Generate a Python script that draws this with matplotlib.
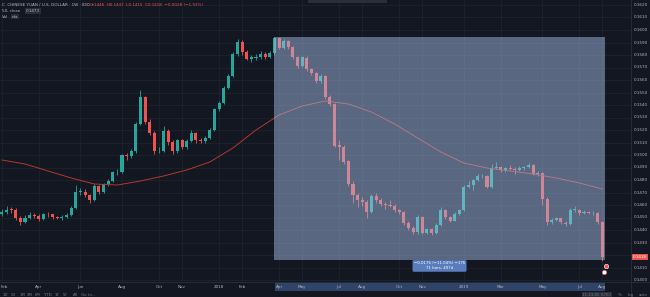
import matplotlib
matplotlib.use("Agg")
import matplotlib.pyplot as plt
from matplotlib.patches import Rectangle
import numpy as np
import pandas as pd

# ---------------- data (weekly CNY/USD) ----------------
start_date = "2017-02-06"
opens = [0.14530, 0.14541, 0.14564, 0.14560, 0.14493, 0.14468, 0.14499, 0.14522, 0.14514, 0.14489,
         0.14526, 0.14524, 0.14503, 0.14495, 0.14505, 0.14520, 0.14575, 0.14706, 0.14708, 0.14678,
         0.14639, 0.14751, 0.14706, 0.14769, 0.14793, 0.14861, 0.14863, 0.14997, 0.14990, 0.15031,
         0.15246, 0.15465, 0.15265, 0.15179, 0.15031, 0.15031, 0.15195, 0.15101, 0.15029, 0.15119,
         0.15060, 0.15113, 0.15177, 0.15117, 0.15111, 0.15135, 0.15202, 0.15368, 0.15413, 0.15538,
         0.15632, 0.15805, 0.15901, 0.15820, 0.15770, 0.15780, 0.15786, 0.15810, 0.15785, 0.15813,
         0.15936, 0.15860, 0.15911, 0.15865, 0.15785, 0.15716, 0.15780, 0.15689, 0.15654, 0.15591,
         0.15630, 0.15463, 0.15406, 0.15076, 0.15060, 0.14948, 0.14771, 0.14678, 0.14637, 0.14624,
         0.14545, 0.14673, 0.14641, 0.14605, 0.14601, 0.14594, 0.14560, 0.14541, 0.14455, 0.14420,
         0.14384, 0.14508, 0.14378, 0.14407, 0.14378, 0.14440, 0.14563, 0.14501, 0.14476, 0.14531,
         0.14558, 0.14747, 0.14760, 0.14799, 0.14830, 0.14835, 0.14747, 0.14899, 0.14906, 0.14877,
         0.14896, 0.14890, 0.14883, 0.14896, 0.14905, 0.14919, 0.14848, 0.14855, 0.14650, 0.14461,
         0.14482, 0.14493, 0.14460, 0.14447, 0.14560, 0.14564, 0.14533, 0.14541, 0.14535, 0.14537,
         0.14460]
highs = [0.14572, 0.14590, 0.14585, 0.14575, 0.14510, 0.14520, 0.14545, 0.14540, 0.14525, 0.14540,
         0.14545, 0.14530, 0.14515, 0.14520, 0.14535, 0.14590, 0.14760, 0.14740, 0.14725, 0.14690,
         0.14765, 0.14760, 0.14780, 0.14810, 0.14875, 0.14890, 0.15010, 0.15020, 0.15050, 0.15260,
         0.15520, 0.15470, 0.15290, 0.15190, 0.15060, 0.15230, 0.15210, 0.15120, 0.15130, 0.15125,
         0.15125, 0.15200, 0.15185, 0.15135, 0.15150, 0.15215, 0.15380, 0.15430, 0.15550, 0.15650,
         0.15820, 0.15930, 0.15920, 0.15840, 0.15800, 0.15810, 0.15830, 0.15825, 0.15830, 0.15944,
         0.15940, 0.15925, 0.15920, 0.15870, 0.15795, 0.15795, 0.15790, 0.15700, 0.15665, 0.15645,
         0.15640, 0.15480, 0.15415, 0.15120, 0.15080, 0.14960, 0.14790, 0.14700, 0.14660, 0.14640,
         0.14690, 0.14700, 0.14655, 0.14625, 0.14640, 0.14610, 0.14570, 0.14550, 0.14470, 0.14435,
         0.14520, 0.14515, 0.14420, 0.14420, 0.14455, 0.14580, 0.14570, 0.14510, 0.14545, 0.14570,
         0.14760, 0.14790, 0.14810, 0.14845, 0.14850, 0.14840, 0.14930, 0.14945, 0.14915, 0.14905,
         0.14920, 0.14905, 0.14910, 0.14915, 0.14935, 0.14925, 0.14870, 0.14865, 0.14660, 0.14500,
         0.14505, 0.14500, 0.14475, 0.14575, 0.14590, 0.14570, 0.14560, 0.14555, 0.14550, 0.14545,
         0.14470]
lows = [0.14515, 0.14530, 0.14540, 0.14480, 0.14440, 0.14455, 0.14490, 0.14500, 0.14475, 0.14480,
        0.14505, 0.14490, 0.14485, 0.14480, 0.14495, 0.14510, 0.14570, 0.14680, 0.14660, 0.14620,
        0.14630, 0.14690, 0.14700, 0.14755, 0.14785, 0.14840, 0.14855, 0.14960, 0.14980, 0.15020,
        0.15240, 0.15250, 0.15160, 0.15010, 0.15020, 0.15025, 0.15080, 0.15010, 0.15020, 0.15045,
        0.15050, 0.15105, 0.15100, 0.15095, 0.15100, 0.15125, 0.15195, 0.15355, 0.15405, 0.15525,
        0.15620, 0.15790, 0.15800, 0.15760, 0.15745, 0.15760, 0.15770, 0.15770, 0.15775, 0.15800,
        0.15845, 0.15850, 0.15850, 0.15770, 0.15700, 0.15705, 0.15675, 0.15640, 0.15580, 0.15580,
        0.15450, 0.15390, 0.15060, 0.14960, 0.14930, 0.14750, 0.14620, 0.14580, 0.14590, 0.14500,
        0.14540, 0.14620, 0.14590, 0.14570, 0.14585, 0.14545, 0.14530, 0.14440, 0.14400, 0.14370,
        0.14365, 0.14370, 0.14365, 0.14360, 0.14370, 0.14430, 0.14490, 0.14460, 0.14470, 0.14520,
        0.14550, 0.14735, 0.14720, 0.14790, 0.14820, 0.14735, 0.14740, 0.14885, 0.14860, 0.14865,
        0.14880, 0.14850, 0.14870, 0.14880, 0.14895, 0.14840, 0.14835, 0.14600, 0.14440, 0.14450,
        0.14470, 0.14445, 0.14435, 0.14440, 0.14545, 0.14520, 0.14525, 0.14525, 0.14520, 0.14450,
        0.14150]
closes = [0.14541, 0.14564, 0.14560, 0.14493, 0.14468, 0.14499, 0.14522, 0.14514, 0.14489, 0.14526,
          0.14524, 0.14503, 0.14495, 0.14505, 0.14520, 0.14575, 0.14706, 0.14708, 0.14678, 0.14639,
          0.14751, 0.14706, 0.14769, 0.14793, 0.14861, 0.14863, 0.14997, 0.14990, 0.15031, 0.15246,
          0.15465, 0.15265, 0.15179, 0.15031, 0.15031, 0.15195, 0.15101, 0.15029, 0.15119, 0.15060,
          0.15113, 0.15177, 0.15117, 0.15111, 0.15135, 0.15202, 0.15368, 0.15413, 0.15538, 0.15632,
          0.15805, 0.15901, 0.15820, 0.15770, 0.15780, 0.15786, 0.15810, 0.15785, 0.15813, 0.15936,
          0.15860, 0.15911, 0.15865, 0.15785, 0.15716, 0.15780, 0.15689, 0.15654, 0.15591, 0.15630,
          0.15463, 0.15406, 0.15076, 0.15060, 0.14948, 0.14771, 0.14678, 0.14637, 0.14624, 0.14545,
          0.14673, 0.14641, 0.14605, 0.14601, 0.14594, 0.14560, 0.14541, 0.14455, 0.14420, 0.14384,
          0.14508, 0.14378, 0.14407, 0.14378, 0.14440, 0.14563, 0.14501, 0.14476, 0.14531, 0.14558,
          0.14747, 0.14760, 0.14799, 0.14830, 0.14835, 0.14747, 0.14899, 0.14906, 0.14877, 0.14896,
          0.14890, 0.14883, 0.14896, 0.14905, 0.14919, 0.14848, 0.14855, 0.14650, 0.14461, 0.14482,
          0.14493, 0.14460, 0.14447, 0.14560, 0.14564, 0.14533, 0.14541, 0.14535, 0.14537, 0.14460,
          0.14184]

# moving average, read every 5 bars
ma_bars = [0, 5, 10, 15, 20, 25, 30, 35, 40, 45, 50, 55, 60, 65, 70, 75, 80, 85, 90, 95,
           100, 105, 110, 115, 120, 125, 130]
ma_values = [0.14960, 0.14928, 0.14872, 0.14816, 0.14768, 0.14760, 0.14792, 0.14832, 0.14880,
             0.14944, 0.15056, 0.15200, 0.15320, 0.15392, 0.15432, 0.15408, 0.15344, 0.15248,
             0.15136, 0.15024, 0.14936, 0.14896, 0.14872, 0.14848, 0.14816, 0.14776, 0.14728]

tick_dates = ["2017-02-06", "2017-04-03", "2017-06-05", "2017-08-07", "2017-10-02", "2017-11-06",
              "2018-01-01", "2018-02-05", "2018-04-02", "2018-05-07", "2018-07-02", "2018-08-06",
              "2018-10-01", "2018-11-05", "2019-01-07", "2019-03-04", "2019-05-06", "2019-07-01",
              "2019-08-05"]
tick_labels = ["Feb", "Apr", "Jun", "Aug", "Oct", "Nov", "2018", "Feb", "Apr", "May", "Jul", "Aug",
               "Oct", "Nov", "2019", "Mar", "May", "Jul", "Aug"]

price_levels = [0.140, 0.141, 0.142, 0.143, 0.144, 0.145, 0.146, 0.147, 0.148, 0.149, 0.150, 0.151,
                0.152, 0.153, 0.154, 0.155, 0.156, 0.157, 0.158, 0.159, 0.160, 0.161, 0.162]

# price-range drawing (bar positions and prices)
range_bars = [58.9, 130.55]
range_prices = [0.14160, 0.15944]
range_text = "\u22120.0176 (\u221211.04%) \u2212176\n71 bars, 497d"

# ---------------- style ----------------
BG = "#131722"
GRID = "#1e222d"
UP = "#26a69a"
DOWN = "#ef5350"
TXT = "#b2b5be"

W, H = 650, 297
fig = plt.figure(figsize=(W / 100, H / 100), dpi=100, facecolor=BG)
ax = fig.add_axes([0, 15 / H, 631 / W, 282 / H])
ax.set_facecolor(BG)
for s in ax.spines.values():
    s.set_visible(False)
ax.set_xticks([])
ax.set_yticks([])

o = np.array(opens); hi = np.array(highs); lo = np.array(lows); c = np.array(closes)
n = len(c)
x = np.arange(n)
dates = pd.date_range(start_date, periods=n, freq="W-MON")
tick_pos = [dates.get_loc(pd.Timestamp(d)) for d in tick_dates]

ax.set_xlim(-0.411, 136.17)
ax.set_ylim(0.13984, 0.16240)

# grid
for lv in price_levels:
    ax.axhline(lv, color=GRID, lw=0.6, zorder=0)
for tp in tick_pos:
    ax.axvline(tp, color=GRID, lw=0.6, zorder=0)

# candles
up = c >= o
cols = np.where(up, UP, DOWN)
ax.vlines(x, lo, hi, colors=cols, lw=0.6, zorder=2)
body_b = np.minimum(o, c)
body_h = np.maximum(np.abs(c - o), 0.00003)
ax.bar(x, body_h, bottom=body_b, width=0.66, color=cols, edgecolor="none", zorder=2)

# moving average
ax.plot(ma_bars, ma_values, color="#c0392b", lw=0.65, zorder=3)

# price range drawing
ax.add_patch(Rectangle((range_bars[0], range_prices[0]), range_bars[1] - range_bars[0],
                       range_prices[1] - range_prices[0],
                       facecolor=(0.67, 0.76, 0.92, 0.47), edgecolor="none", zorder=5))
ax.text((range_bars[0] + range_bars[1]) / 2, range_prices[0] - 0.00012, range_text,
        ha="center", va="top", fontsize=2.8, color="white", zorder=7, linespacing=1.3,
        bbox=dict(boxstyle="round,pad=0.35,rounding_size=0.3", fc="#5a7cbd", ec="none"))

# event icons below last bar
ax.plot([130.8], [0.14112], "o", ms=3.2, mfc=DOWN, mec="white", mew=0.4, zorder=6, clip_on=False)
ax.plot([130.3], [0.14064], "o", ms=3.2, mfc="white", mec=DOWN, mew=0.4, zorder=6, clip_on=False)

# price scale labels (the one hidden under the last-price tag is skipped)
ytr = ax.get_yaxis_transform()
last = closes[-1]
for lv in price_levels:
    if abs(lv - last) < 0.0004:
        continue
    ax.text(1.0 + 3 / 631, lv, f"{lv:.4f}", transform=ytr, ha="left", va="center",
            fontsize=3.0, color=TXT, clip_on=False)
ax.text(1.0 + 2 / 631, last, f"{last:.4f}", transform=ytr, ha="left", va="center",
        fontsize=3.0, color="white", clip_on=False,
        bbox=dict(boxstyle="square,pad=0.25", fc=DOWN, ec="none"))

# separator lines
fig.add_artist(plt.Line2D([631 / W, 631 / W], [0, 1], color="#2a2e39", lw=0.6))
fig.add_artist(plt.Line2D([0, 1], [15 / H, 15 / H], color="#2a2e39", lw=0.6))

# x-axis band for the drawing (behind the time labels)
band = Rectangle((275 / W, 6 / H), (605 - 275) / W, 8.5 / H,
                 transform=fig.transFigure, fc="#2f4468", ec="none")
band.set_zorder(-1)
fig.add_artist(band)

# time labels
xtr = ax.get_xaxis_transform()
for k, (tp, lab) in enumerate(zip(tick_pos, tick_labels)):
    ha = "left" if k == 0 else "center"
    xx = -0.35 if k == 0 else tp
    ax.text(xx, -5 / 282, lab, transform=xtr, ha=ha, va="center",
            fontsize=3.0, color=TXT, clip_on=False, zorder=10)

# legend texts top-left
fig.text(2 / W, 1 - 5 / H, "C  CHINESE YUAN / U.S. DOLLAR \u00b7 1W \u00b7 IDC  \u2022",
         fontsize=3.0, color=TXT, va="center")
fig.text(87 / W, 1 - 5 / H,
         f"O{opens[-1]:.4f}  H{highs[-1]:.4f}  L{lows[-1]:.4f}  C{closes[-1]:.4f}  "
         f"\u22120.0028 (\u22121.91%)",
         fontsize=3.0, color=DOWN, va="center")
fig.text(2 / W, 1 - 11 / H, "50, close", fontsize=3.0, color=TXT, va="center")
fig.text(26 / W, 1 - 11 / H, "0.1473", fontsize=3.0, color=TXT, va="center",
         bbox=dict(boxstyle="square,pad=0.2", fc="#2a2e39", ec="none"))
fig.text(2 / W, 1 - 16.5 / H, "Vol", fontsize=3.0, color=TXT, va="center")
fig.text(12 / W, 1 - 16.5 / H, "n/a", fontsize=3.0, color=TXT, va="center",
         bbox=dict(boxstyle="square,pad=0.2", fc="#2a2e39", ec="none"))

# top toolbar stub
fig.add_artist(Rectangle((308 / W, 1 - 3 / H), 79 / W, 3 / H, transform=fig.transFigure,
                         fc="#2a2e39", ec="none"))

# bottom toolbar
for px, lab in zip([5, 13, 22, 30, 38, 48, 57, 65, 75, 88],
                   ["1D", "5D", "1M", "3M", "6M", "YTD", "1Y", "5Y", "All", "Go to..."]):
    fig.text(px / W, 2 / H, lab, fontsize=2.8, color="#787b86", ha="center", va="center")
fig.text(597 / W, 2 / H, "11:23:05 (UTC)", fontsize=2.8, color="#787b86", ha="center", va="center",
         bbox=dict(boxstyle="square,pad=0.2", fc="#2a2e39", ec="none"))
for px, lab in zip([620, 631, 643], ["%", "log", "auto"]):
    fig.text(px / W, 2 / H, lab, fontsize=2.8, color="#787b86", ha="center", va="center")

fig.savefig("out.png", dpi=100, facecolor=BG)
